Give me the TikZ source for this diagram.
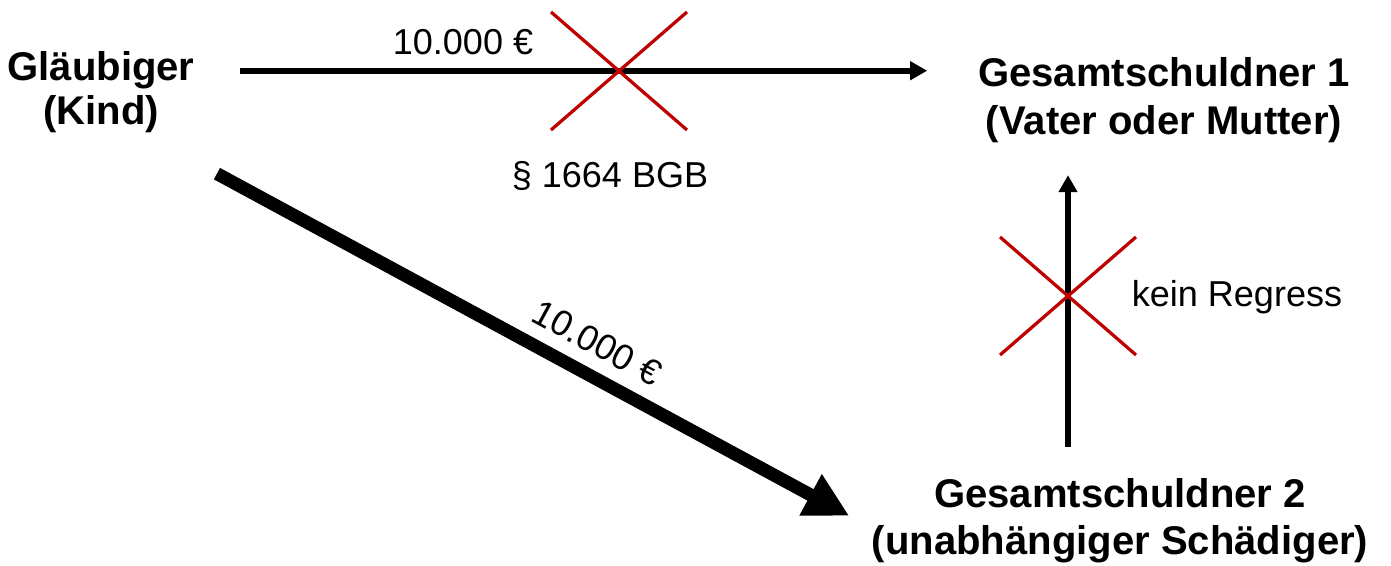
\documentclass[tikz,border=0pt]{standalone}
\usepackage{fontspec}
\setmainfont{Liberation Sans}
\usetikzlibrary{arrows.meta,positioning}
\definecolor{CrossClr}{rgb}{0.75,0,0}

\tikzset{
  party/.style={font=\fontsize{22.8}{27}\selectfont\bfseries,inner sep=0pt},
  remark/.style={font=\fontsize{20.5}{24}\selectfont,inner sep=0pt},
  claim/.style={line width=1.2mm,-{Triangle[length=3.4mm,width=3.6mm]}},
  payment/.style={line width=2.6mm,-{Triangle[length=8.8mm,width=8.8mm]}},
  crossout/.pic={\draw[CrossClr,line width=0.65mm] (-1.36,-1.18) -- (1.36,1.18) (-1.36,1.18) -- (1.36,-1.18);}
}

\begin{document}
\begin{tikzpicture}
\useasboundingbox (0,0) rectangle (27.82,11.32);

\node[party,anchor=base] (glaeub) at (2.02,9.70) {Gläubiger};
\node[party,below=0.88cm of glaeub.base,anchor=base] (kind) {(Kind)};

\node[party,anchor=base] (gs1) at (23.28,9.58) {Gesamtschuldner 1};
\node[party,below=0.96cm of gs1.base,anchor=base] (gs1b) {(Vater oder Mutter)};

\node[party,anchor=base] (gs2) at (22.4,1.16) {Gesamtschuldner 2};
\node[party,below=0.94cm of gs2.base,anchor=base] (gs2b) {(unabhängiger Schädiger)};

\coordinate (kein) at (21.36,5.4);

\draw[claim,shorten <=0.91cm,shorten >=1.01cm] (glaeub.east) -- (glaeub.east -| gs1.west);
\draw[claim,shorten <=0.64cm,shorten >=0.63cm] (gs2.north -| kein) -- (gs1b.south -| kein);
\draw[payment] ([shift={(1.155,-0.80)}]kind.south east) -- ([shift={(-1.69,-0.744)}]gs2.north west);

\pic at (12.38,9.9) {crossout};
\pic at (kein) {crossout};

\node[remark,anchor=base] (sumtop) at (9.26,10.22) {10.000 €};
\node[remark,anchor=base] (bgb) at (12.2,7.56) {§ 1664 BGB};
\node[remark,anchor=base] (regress) at (24.74,5.18) {kein Regress};
\node[remark,rotate=-28.5] (sumdiag) at (11.94,4.46) {10.000 €};

\end{tikzpicture}
\end{document}
